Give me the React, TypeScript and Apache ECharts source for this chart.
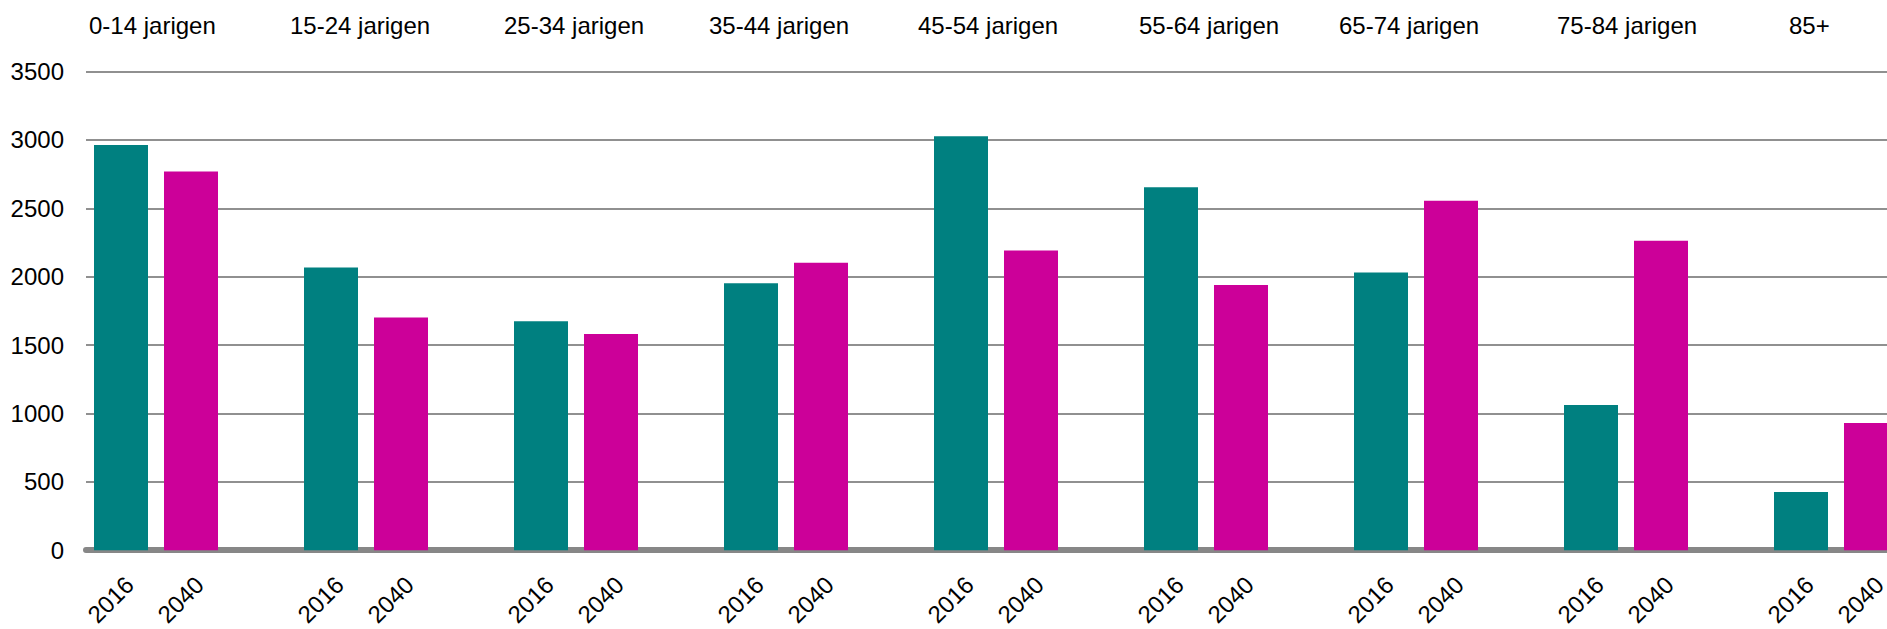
import React, { useEffect, useRef } from "react";
import * as echarts from "echarts";

const groups = [
  "0-14 jarigen",
  "15-24 jarigen",
  "25-34 jarigen",
  "35-44 jarigen",
  "45-54 jarigen",
  "55-64 jarigen",
  "65-74 jarigen",
  "75-84 jarigen",
  "85+",
];
const years = ["2016", "2040"];
const values2016 = [2962, 2067, 1674, 1952, 3026, 2654, 2031, 1062, 425];
const values2040 = [2769, 1702, 1581, 2102, 2192, 1938, 2555, 2263, 930];
const yTicks = { min: 0, max: 3500, interval: 500 };

// layout only: left x of each group caption at the top
const groupLabelX = [89, 290, 504, 709, 918, 1139, 1339, 1557, 1789];

const COLOR_2016 = "#008080";
const COLOR_2040 = "#CC0099";
const FONT = "'Liberation Sans', Arial, sans-serif";

export default function App() {
  const ref = useRef<HTMLDivElement>(null);

  useEffect(() => {
    document.body.style.margin = "0";
    if (!ref.current) return;
    const chart = echarts.init(ref.current, undefined, { renderer: "svg" });

    const categories: string[] = [];
    const data: any[] = [];
    groups.forEach((_, i) => {
      categories.push(years[0], years[1], "");
      data.push({ value: values2016[i], itemStyle: { color: COLOR_2016 } });
      data.push({ value: values2040[i], itemStyle: { color: COLOR_2040 } });
      data.push("-");
    });

    chart.setOption({
      animation: false,
      textStyle: { fontFamily: FONT },
      grid: { left: 86, top: 71.5, bottom: 69, width: 70 * categories.length, containLabel: false },
      xAxis: {
        type: "category",
        data: categories,
        offset: 3,
        axisLine: { show: true, lineStyle: { color: "#878787", width: 6 } },
        axisTick: { show: false },
        splitLine: { show: false },
        axisLabel: {
          interval: 0,
          rotate: 45,
          margin: 19,
          align: "right",
          verticalAlign: "top",
          fontSize: 24,
          color: "#000",
          fontFamily: FONT,
        },
      },
      yAxis: {
        type: "value",
        min: yTicks.min,
        max: yTicks.max,
        interval: yTicks.interval,
        axisLine: { show: false },
        axisTick: { show: false },
        splitLine: { show: true, lineStyle: { color: "#909090", width: 2 } },
        axisLabel: {
          fontSize: 24,
          color: "#000",
          margin: 22,
          fontFamily: FONT,
          formatter: (v: number) => String(v),
        },
      },
      series: [
        {
          type: "bar",
          data,
          barWidth: 54,
        },
      ],
      graphic: groups.map((g, i) => ({
        type: "text",
        x: groupLabelX[i],
        y: 25,
        style: {
          text: g,
          fontSize: 24,
          fill: "#000",
          fontFamily: FONT,
          textAlign: "left",
          textVerticalAlign: "middle",
        },
      })),
    });

    return () => chart.dispose();
  }, []);

  return (
    <div style={{ width: 1887, height: 629, overflow: "hidden", position: "relative" }}>
      <div ref={ref} style={{ width: 2000, height: 629 }} />
    </div>
  );
}
